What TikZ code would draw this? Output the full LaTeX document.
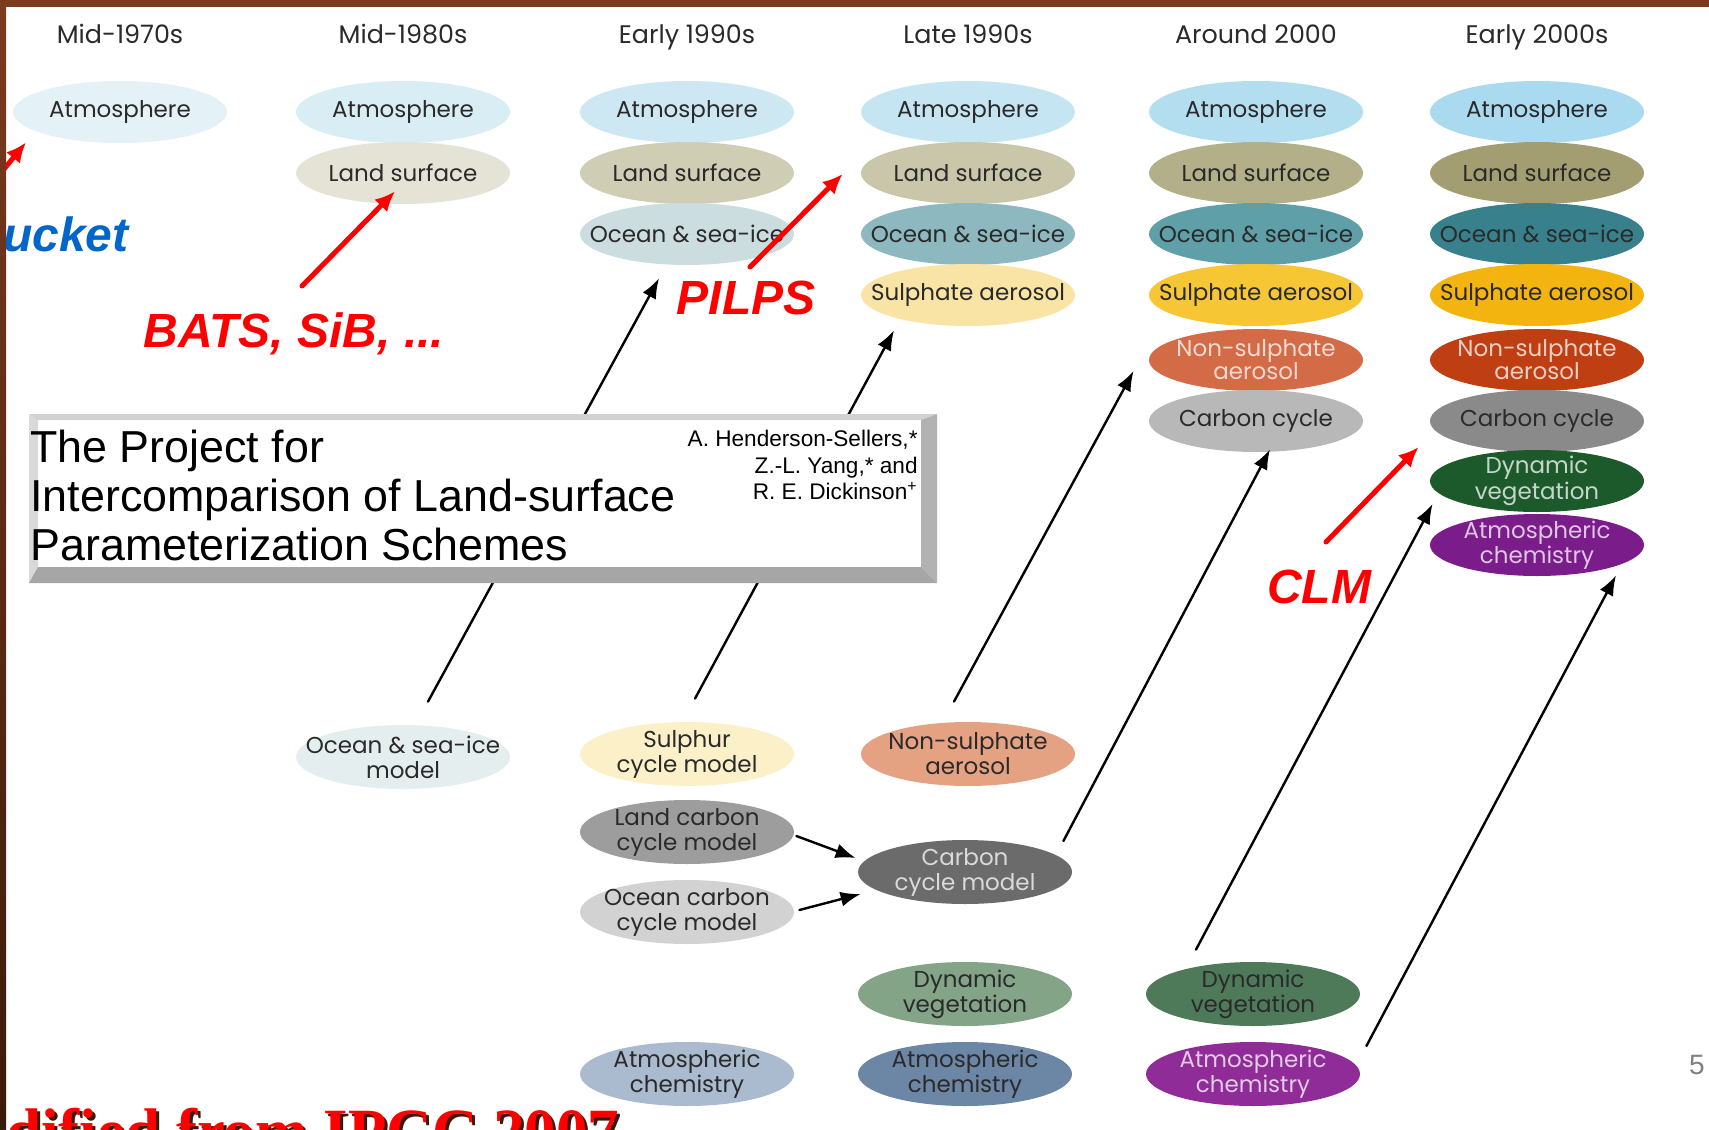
\documentclass[tikz,border=0pt]{standalone}
\usepackage{fontspec}
\setmainfont{Liberation Sans}
\newfontfamily\blobfont{Poppins}
\newfontfamily\ipccfont{Liberation Serif}
\usetikzlibrary{shapes.geometric,arrows.meta}

\definecolor{frame}{HTML}{7B3B1F}
\definecolor{framedark}{HTML}{3A1A0C}
\definecolor{blobtext}{HTML}{2A2A2A}
\definecolor{bucketblue}{HTML}{0066CC}
\definecolor{atm1}{HTML}{E4F1F7}
\definecolor{atm2}{HTML}{D9EDF5}
\definecolor{atm3}{HTML}{CDE8F3}
\definecolor{atm4}{HTML}{C6E5F2}
\definecolor{atm5}{HTML}{B3DEF0}
\definecolor{atm6}{HTML}{A9DAEF}
\definecolor{lnd2}{HTML}{E4E3D6}
\definecolor{lnd3}{HTML}{CFCDB3}
\definecolor{lnd4}{HTML}{C9C6A9}
\definecolor{lnd5}{HTML}{B3AF88}
\definecolor{lnd6}{HTML}{A29E72}
\definecolor{ocn3}{HTML}{CCDDE0}
\definecolor{ocn4}{HTML}{8DB8BF}
\definecolor{ocn5}{HTML}{5E9FA8}
\definecolor{ocn6}{HTML}{37808C}
\definecolor{ocnmod}{HTML}{E5EEEE}
\definecolor{sul4}{HTML}{F9E3A5}
\definecolor{sul5}{HTML}{F6C634}
\definecolor{sul6}{HTML}{F3B410}
\definecolor{sulmod}{HTML}{FCF0C9}
\definecolor{nsa4}{HTML}{E4A283}
\definecolor{nsa5}{HTML}{D36B47}
\definecolor{nsa6}{HTML}{BF3E12}
\definecolor{cc5}{HTML}{B8B8B8}
\definecolor{cc6}{HTML}{8A8A8A}
\definecolor{ccmod}{HTML}{6B6B6B}
\definecolor{lcmod}{HTML}{9D9D9D}
\definecolor{ocmod}{HTML}{D2D2D2}
\definecolor{dv4}{HTML}{83A486}
\definecolor{dv5}{HTML}{4E7A59}
\definecolor{dv6}{HTML}{1D5A2B}
\definecolor{ac3}{HTML}{AABBD0}
\definecolor{ac4}{HTML}{6C86A6}
\definecolor{ac5}{HTML}{8F2C98}
\definecolor{ac6}{HTML}{7B1C8B}

\begin{document}
\begin{tikzpicture}[x=0.5pt,y=-0.5pt,line cap=round,line join=round,
  blob/.style={ellipse,minimum width=107pt,minimum height=31pt,inner xsep=-32pt,inner ysep=-6pt,
    align=center,text=blobtext,font=\blobfont\fontsize{11.5}{11.5}\selectfont},
  loose/.style={minimum height=32pt,font=\blobfont\fontsize{11.5}{12.5}\selectfont},
  era/.style={anchor=base,text=blobtext,font=\blobfont\fontsize{12.7}{13}\selectfont},
  link/.style={-{Latex[length=10pt,width=7.5pt]},line width=1.2pt},
  redlink/.style={-{Latex[length=10pt,width=9pt]},line width=2.5pt,red},
  callout/.style={inner sep=0pt,text=red,font=\bfseries\itshape\fontsize{24}{24}\selectfont}]
\useasboundingbox (0,0) rectangle (1709,1130);
\clip (0,0) rectangle (1709,1130);
\fill[white] (0,0) rectangle (1709,1130);

% column heads
\node[era] (h1) at (120,43) {Mid-1970s};
\node[era] (h2) at (403,43) {Mid-1980s};
\node[era] (h3) at (687,43) {Early 1990s};
\node[era] (h4) at (968,43) {Late 1990s};
\node[era] (h5) at (1256,43) {Around 2000};
\node[era] (h6) at (1537,43) {Early 2000s};

% coupled model stacks
\node[blob,fill=atm1] (atm1) at (120,112) {Atmosphere};
\node[blob,fill=atm2] (atm2) at (403,112) {Atmosphere};
\node[blob,fill=lnd2] (land2) at (403,173) {Land surface};
\node[blob,fill=atm3] (atm3) at (687,112) {Atmosphere};
\node[blob,fill=lnd3] (land3) at (687,173) {Land surface};
\node[blob,fill=ocn3] (ocean3) at (687,234) {Ocean \& sea-ice};
\node[blob,fill=atm4] (atm4) at (968,112) {Atmosphere};
\node[blob,fill=lnd4] (land4) at (968,173) {Land surface};
\node[blob,fill=ocn4] (ocean4) at (968,234) {Ocean \& sea-ice};
\node[blob,fill=sul4] (sulph4) at (968,295) {Sulphate aerosol};
\node[blob,fill=atm5] (atm5) at (1256,112) {Atmosphere};
\node[blob,fill=lnd5] (land5) at (1256,173) {Land surface};
\node[blob,fill=ocn5] (ocean5) at (1256,234) {Ocean \& sea-ice};
\node[blob,fill=sul5] (sulph5) at (1256,295) {Sulphate aerosol};
\node[blob,fill=nsa5,text=nsa5!25!white] (nonsul5) at (1256,360) {Non-sulphate\\aerosol};
\node[blob,fill=cc5] (carb5) at (1256,421) {Carbon cycle};
\node[blob,fill=atm6] (atm6) at (1537,112) {Atmosphere};
\node[blob,fill=lnd6] (land6) at (1537,173) {Land surface};
\node[blob,fill=ocn6] (ocean6) at (1537,234) {Ocean \& sea-ice};
\node[blob,fill=sul6] (sulph6) at (1537,295) {Sulphate aerosol};
\node[blob,fill=nsa6,text=nsa6!25!white] (nonsul6) at (1537,360) {Non-sulphate\\aerosol};
\node[blob,fill=cc6] (carb6) at (1537,421) {Carbon cycle};
\node[blob,fill=dv6,text=dv6!25!white] (dynveg6) at (1537,481) {Dynamic\\vegetation};
\node[blob,fill=ac6,text=ac6!25!white] (chem6) at (1537,545) {Atmospheric\\chemistry};

% stand-alone components
\node[blob,loose,fill=ocnmod] (oceanmod) at (403,757) {Ocean \& sea-ice\\model};
\node[blob,loose,fill=sulmod] (sulmod) at (687,754) {Sulphur\\cycle model};
\node[blob,loose,fill=lcmod] (landcmod) at (687,832) {Land carbon\\cycle model};
\node[blob,loose,fill=ocmod] (oceancmod) at (687,912) {Ocean carbon\\cycle model};
\node[blob,loose,fill=ac3] (chem3) at (687,1074) {Atmospheric\\chemistry};
\node[blob,loose,fill=nsa4] (nonsul4) at (968,754) {Non-sulphate\\aerosol};
\node[blob,loose,fill=ccmod,text=ccmod!25!white] (carbmod) at (965,872) {Carbon\\cycle model};
\node[blob,loose,fill=dv4] (dynveg4) at (965,994) {Dynamic\\vegetation};
\node[blob,loose,fill=ac4] (chem4) at (965,1074) {Atmospheric\\chemistry};
\node[blob,loose,fill=dv5] (dynveg5) at (1253,994) {Dynamic\\vegetation};
\node[blob,loose,fill=ac5,text=ac5!25!white] (chem5) at (1253,1074) {Atmospheric\\chemistry};

\draw[link] ([shift={(25,-23)}]oceanmod.north) -- ([shift={(-28,13)}]ocean3.south);
\draw[link] ([shift={(8,-23)}]sulmod.north) -- ([shift={(-74,4)}]sulph4.south);
\draw[link] ([shift={(-14,-20)}]nonsul4.north) -- ([shift={(-15,11)}]nonsul5.west);
\draw[link] ([shift={(-9,-31)}]carbmod.east) -- ([shift={(14,-3)}]carb5.south);
\draw[link] ([shift={(-57,-12)}]dynveg5.north) -- ([shift={(3,23)}]dynveg6.west);
\draw[link] ([shift={(6,-28)}]chem5.east) -- ([shift={(79,-1)}]chem6.south);
\draw[link] ([shift={(2,4)}]landcmod.east) -- ([shift={(-2,-14)}]carbmod.west);
\draw[link] ([shift={(5,-2)}]oceancmod.east) -- ([shift={(3,22)}]carbmod.west);

% PILPS paper title plate
\fill[white] (29,414) rectangle (937,583);
\fill[gray!35] (29,414) -- (937,414) -- (921,420) -- (38,420) -- cycle;
\fill[gray!30] (29,414) -- (38,420) -- (38,567) -- (29,583) -- cycle;
\fill[gray!60] (937,414) -- (937,583) -- (921,567) -- (921,420) -- cycle;
\fill[gray!70] (29,583) -- (937,583) -- (921,567) -- (38,567) -- cycle;
\node[anchor=north west,inner sep=0pt,align=left,font=\fontsize{22.4}{24.5}\selectfont] (title) at (30,430)
  {The Project for\\Intercomparison of Land-surface\\Parameterization Schemes};
\node[anchor=north east,inner sep=0pt,align=right,font=\fontsize{11.3}{13.2}\selectfont] (authors) at (918,430)
  {A. Henderson-Sellers,*\\Z.-L. Yang,* and\\R. E. Dickinson\textsuperscript{+}};

% land-surface schemes
\node[callout,text=bucketblue,anchor=base east] (bucket) at (129,251) {Bucket};
\node[callout,anchor=base] (bats) at (294,347) {BATS, SiB, ...};
\node[callout,anchor=base] (pilps) at (746,314) {PILPS};
\node[callout,anchor=base] (clm) at (1319,603) {CLM};
\draw[redlink] ([shift={(-134,-71)}]bucket.base east) -- ([shift={(-94,-1)}]atm1.south);
\draw[redlink] ([shift={(8,-61)}]bats.base) -- ([shift={(-8,-13)}]land2.south);
\draw[redlink] ([shift={(4,-47)}]pilps.base) -- ([shift={(-18,1)}]land4.west);
\draw[redlink] ([shift={(7,-61)}]clm.base) -- ([shift={(-11,26)}]carb6.west);

\node[anchor=base west,inner sep=0pt,text=framedark,font=\ipccfont\bfseries\fontsize{31.5}{31.5}\selectfont] (ipccshadow) at (-82,1155) {Modified from IPCC 2007};
\node[anchor=base west,inner sep=0pt,text=red,font=\ipccfont\bfseries\fontsize{31.5}{31.5}\selectfont] (ipcc) at (-85,1152) {Modified from IPCC 2007};
\node[text=gray,font=\fontsize{14}{14}\selectfont] (page) at (1697,1065) {5};

% slide frame
\fill[frame] (0,0) rectangle (1709,7);
\shade[top color=frame,bottom color=framedark] (0,0) rectangle (6,1130);
\end{tikzpicture}
\end{document}
